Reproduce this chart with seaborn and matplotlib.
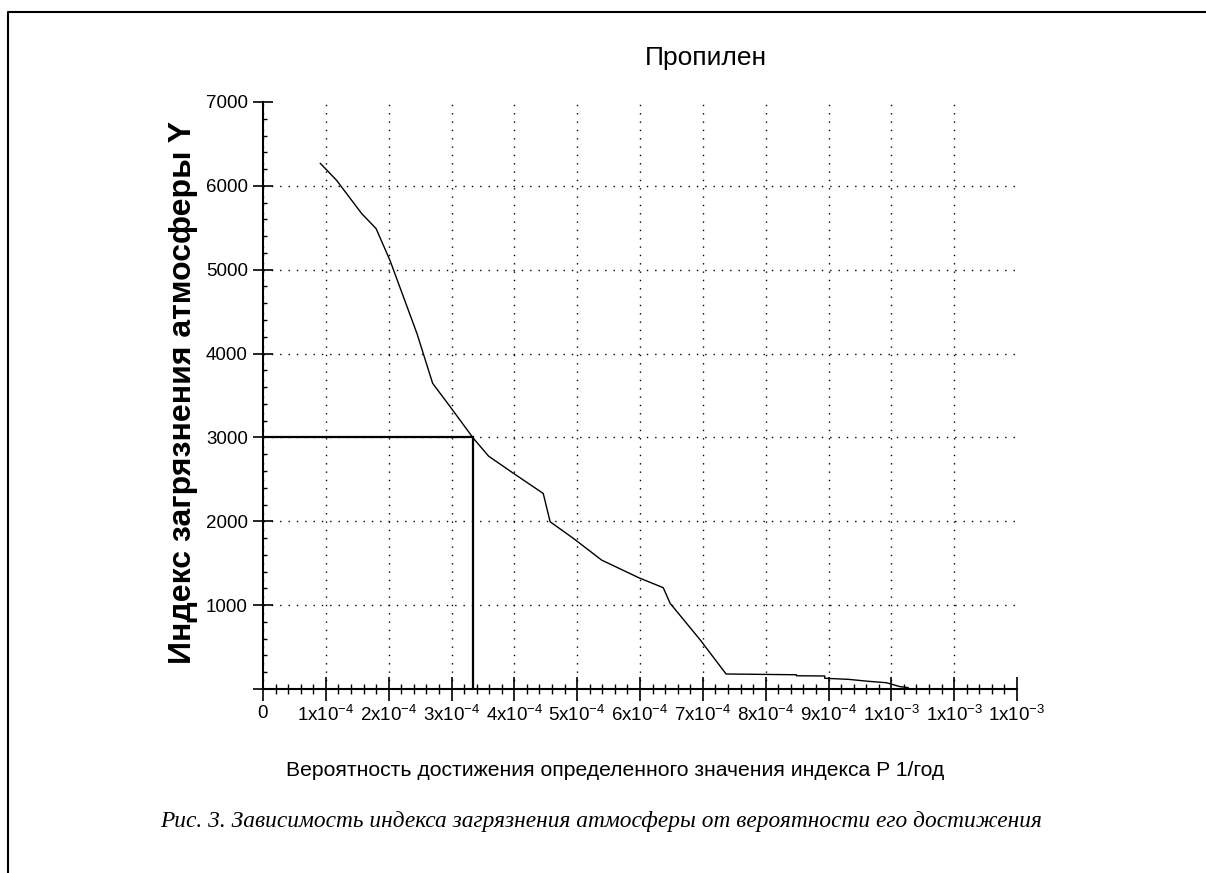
import matplotlib
matplotlib.use("Agg")
import matplotlib.pyplot as plt
import seaborn as sns
from matplotlib.lines import Line2D
from matplotlib.ticker import MultipleLocator, FixedLocator, FixedFormatter

# probability values, units of 1e-4 1/year
prob_e4 = [0.91, 1.17, 1.57, 1.80, 2.02, 2.45, 2.70, 2.98, 3.35, 3.59, 3.99,
           4.46, 4.57, 4.94, 5.39, 5.98, 6.37, 6.48, 6.96, 7.37, 8.49, 8.49,
           8.94, 8.94, 9.32, 9.63, 9.92, 10.14, 10.27]
# pollution index Y
index_y = [6270, 6067, 5670, 5490, 5113, 4240, 3645, 3365, 2988, 2777, 2570,
           2332, 1994, 1796, 1537, 1327, 1208, 1021, 584, 179, 170, 158,
           155, 128, 115, 92, 75, 28, 16]

# reading guide drawn on the chart
guide_p = 3.34e-4
guide_y = 3000

x_ticks = [i * 1e-4 for i in range(13)]
x_labels = ["0"] + [r"$\mathregular{%dx10^{-4}}$" % i for i in range(1, 10)] + \
           [r"$\mathregular{1x10^{-3}}$"] * 3
y_ticks = [0, 1000, 2000, 3000, 4000, 5000, 6000, 7000]
y_labels = [""] + [str(v) for v in y_ticks[1:]]

title = "Пропилен"
x_title = "Вероятность достижения определенного значения индекса P 1/год"
y_title = "Индекс загрязнения атмосферы Y"
caption = "Рис. 3. Зависимость индекса загрязнения атмосферы от вероятности его достижения"

sns.set_style("white")
plt.rcParams["font.family"] = ["Liberation Sans", "DejaVu Sans"]
plt.rcParams["text.color"] = "black"
plt.rcParams["xtick.color"] = "black"
plt.rcParams["ytick.color"] = "black"
plt.rcParams["axes.labelcolor"] = "black"

W, H = 1206, 873
fig = plt.figure(figsize=(W / 100, H / 100), dpi=100)
ax = fig.add_axes([263 / W, 1 - 689 / H, 754 / W, 587 / H])

prob = [p * 1e-4 for p in prob_e4]
sns.lineplot(x=prob, y=index_y, sort=False, estimator=None, color="black",
             linewidth=1.0, ax=ax)
ax.plot([0, guide_p, guide_p], [guide_y, guide_y, 0], color="black",
        linewidth=1.6, solid_joinstyle="miter")

ax.set_xlim(0, 12e-4)
ax.set_ylim(0, 7000)
ax.xaxis.set_major_locator(FixedLocator(x_ticks))
ax.xaxis.set_major_formatter(FixedFormatter(x_labels))
ax.xaxis.set_minor_locator(MultipleLocator(2e-5))
ax.yaxis.set_major_locator(FixedLocator(y_ticks))
ax.yaxis.set_major_formatter(FixedFormatter(y_labels))
ax.yaxis.set_minor_locator(MultipleLocator(200))

for side in ["top", "right"]:
    ax.spines[side].set_visible(False)
for side in ["left", "bottom"]:
    ax.spines[side].set_linewidth(1.5)
    ax.spines[side].set_color("black")

ax.tick_params(axis="x", which="major", direction="inout", length=17, width=1.2,
               labelsize=13.5, pad=3, bottom=True, color="black", labelcolor="black")
ax.tick_params(axis="x", which="minor", direction="inout", length=7, width=1.0,
               bottom=True, color="black")
ax.tick_params(axis="y", which="major", direction="inout", length=14, width=1.2,
               labelsize=13.5, pad=4, left=True, color="black", labelcolor="black")
ax.tick_params(axis="y", which="minor", direction="in", length=3, width=1.0,
               left=True, color="black")

ax.grid(True, which="major", color="black", linewidth=1.0, linestyle=(0, (1, 5)))
ax.xaxis.get_gridlines()[-1].set_visible(False)
ax.yaxis.get_gridlines()[-1].set_visible(False)
ax.set_xlabel("")
ax.set_ylabel("")

fig.text(706 / W, 1 - 58 / H, title, ha="center", va="center", fontsize=19,
         color="black")
fig.text(183 / W, 1 - 392 / H, y_title, ha="center", va="center", rotation=90,
         fontsize=23, fontweight="bold", color="black")
fig.text(615 / W, 1 - 770 / H, x_title, ha="center", va="center", fontsize=15.2,
         color="black")
fig.text(601 / W, 1 - 822 / H, caption, ha="center", va="center", fontsize=16.8,
         style="italic", family=["Liberation Serif", "DejaVu Serif"], color="black")

# page frame (top and left edges)
fig.add_artist(Line2D([8 / W, 8 / W, 1], [0, 1 - 12 / H, 1 - 12 / H],
                      transform=fig.transFigure, color="black", linewidth=1.5))

fig.savefig("out.png", dpi=100, facecolor="white")
